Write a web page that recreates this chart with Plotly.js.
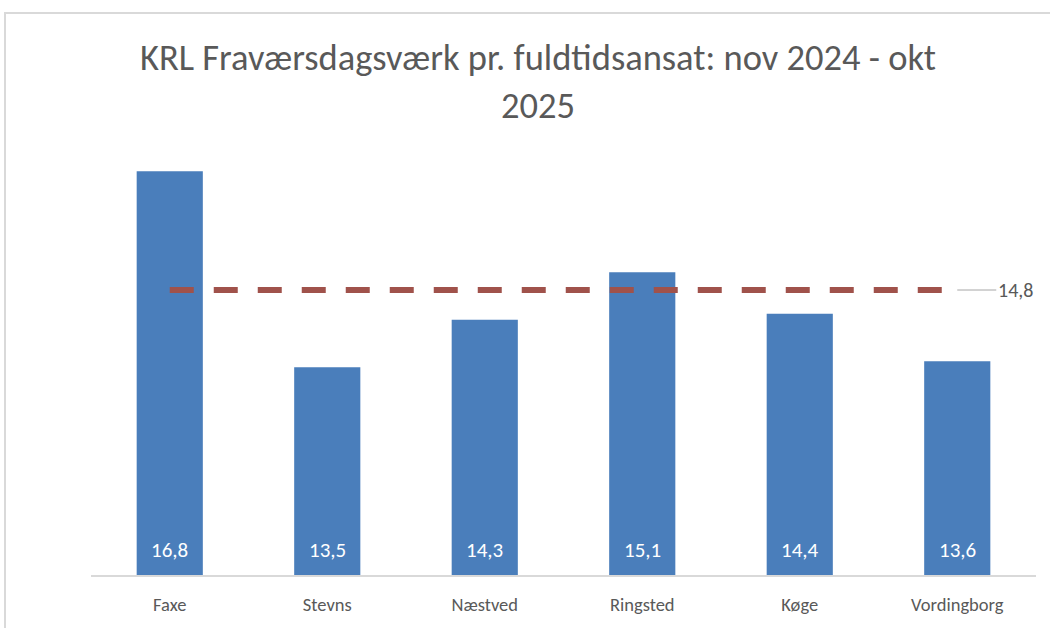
<!DOCTYPE html>
<html>
<head>
<meta charset="utf-8">
<script src="https://cdn.plot.ly/plotly-3.0.1.min.js"></script>
<style>
html,body{margin:0;padding:0;background:#fff;}
#frame{position:absolute;left:4px;top:12px;width:1046px;height:616px;border-top:2px solid #d9d9d9;border-left:2px solid #d9d9d9;box-sizing:border-box;pointer-events:none;}
#chart{position:absolute;left:0;top:0;width:1050px;height:628px;}
</style>
</head>
<body>
<div id="chart"></div>
<div id="frame"></div>
<script>
const categories = ["Faxe", "Stevns", "Næstved", "Ringsted", "Køge", "Vordingborg"];
const values = [16.8, 13.5, 14.3, 15.1, 14.4, 13.6];
const averageValue = 14.8;
const axisMin = 10;
const axisMax = 18;
const averageLine = categories.map(() => averageValue);
const valueLabels = values.map(v => v.toFixed(1).replace(".", ","));
const averageLabel = averageValue.toFixed(1).replace(".", ",");
const chartTitle = "KRL Fraværsdagsværk pr. fuldtidsansat: nov 2024 - okt<br>2025";

const font = "Calibri, Carlito, 'Open Sans', sans-serif";

const traces = [
  {
    type: "bar",
    x: categories,
    base: axisMin,
    y: values.map(v => v - axisMin),
    text: valueLabels,
    textposition: "none",
    marker: {color: "#4a7ebb"},
    hoverinfo: "x+text"
  },
  {
    type: "scatter",
    mode: "lines",
    x: categories,
    y: averageLine,
    line: {color: "#a0524b", width: 6, dash: "24px,20px"},
    hoverinfo: "y"
  }
];

const valueAnnotations = categories.map((c, i) => ({
  x: c,
  y: axisMin,
  xref: "x",
  yref: "y",
  text: valueLabels[i],
  showarrow: false,
  xanchor: "center",
  yanchor: "bottom",
  yshift: 10,
  font: {family: font, size: 21, color: "#ffffff"}
}));

const layout = {
  width: 1050,
  height: 628,
  paper_bgcolor: "#ffffff",
  plot_bgcolor: "#ffffff",
  showlegend: false,
  bargap: 0.58,
  margin: {l: 91, r: 14, t: 100, b: 53},
  title: {
    text: chartTitle,
    font: {family: font, size: 36.5, color: "#595959"},
    x: 0.5124,
    xanchor: "center",
    y: 0.888,
    yanchor: "top"
  },
  xaxis: {
    showline: true,
    linecolor: "#d9d9d9",
    linewidth: 2,
    ticks: "",
    ticklabelstandoff: 12,
    tickfont: {family: font, size: 18.5, color: "#595959"},
    showgrid: false
  },
  yaxis: {
    range: [axisMin, axisMax],
    visible: false,
    showgrid: false,
    zeroline: false
  },
  annotations: valueAnnotations.concat([
    {
      x: categories[categories.length - 1],
      y: averageValue,
      xref: "x",
      yref: "y",
      text: averageLabel,
      showarrow: true,
      arrowhead: 0,
      arrowwidth: 1,
      arrowcolor: "#a6a6a6",
      ax: 58,
      ay: 0,
      font: {family: font, size: 20, color: "#595959"}
    }
  ])
};

Plotly.newPlot("chart", traces, layout, {displayModeBar: false, staticPlot: true});
</script>
</body>
</html>
